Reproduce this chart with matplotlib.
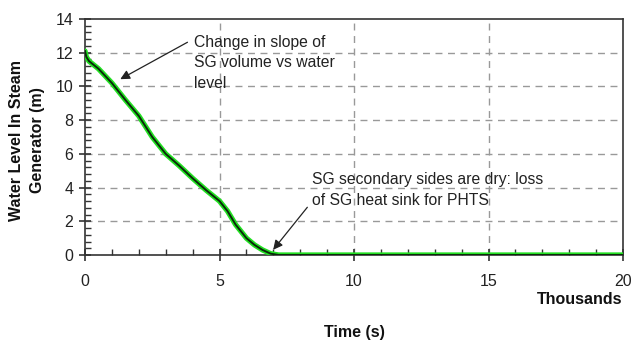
import matplotlib
matplotlib.use("Agg")
import matplotlib.pyplot as plt
from matplotlib.ticker import MultipleLocator

plt.rcParams['font.family'] = ['Liberation Sans', 'DejaVu Sans']

time_k = [0, 0.05, 0.15, 0.5, 1.0, 1.5, 2.0, 2.5, 3.0, 3.5, 4.0, 4.5, 5.0,
          5.3, 5.6, 6.0, 6.3, 6.6, 6.9, 7.2, 8.0, 20.0]
level_m = [12.1, 11.75, 11.5, 11.05, 10.2, 9.2, 8.25, 7.0, 6.0, 5.3, 4.55, 3.85, 3.2,
           2.6, 1.8, 1.0, 0.6, 0.3, 0.08, 0.0, 0.0, 0.0]

x_ticks = [0, 5, 10, 15, 20]
y_ticks = [0, 2, 4, 6, 8, 10, 12, 14]

note1 = "Change in slope of\nSG volume vs water\nlevel"
note2 = "SG secondary sides are dry: loss\nof SG heat sink for PHTS"

fig = plt.figure(figsize=(6.33, 3.44), dpi=100)
ax = fig.add_axes([85/633, 1-255/344, 538/633, 236/344])

ax.plot(time_k, level_m, color='#22e022', lw=3.8, solid_capstyle='round', zorder=3)
ax.plot(time_k, level_m, color='#0a2a0a', lw=1.4, zorder=4)

ax.set_xlim(0, 20)
ax.set_ylim(0, 14)
ax.set_xticks(x_ticks)
ax.set_yticks(y_ticks)
ax.xaxis.set_minor_locator(MultipleLocator(1))
ax.yaxis.set_minor_locator(MultipleLocator(0.4))
ax.tick_params(which='major', direction='inout', length=9, width=1.2, color='#333333',
               labelsize=11.5, labelcolor='#222222')
ax.tick_params(which='minor', direction='in', length=4, width=1, color='#333333')
ax.tick_params(axis='x', which='major', pad=9)
ax.tick_params(axis='y', which='major', pad=4)

for s in ax.spines.values():
    s.set_color('#333333')
    s.set_linewidth(1.2)

for yv in y_ticks[1:-1]:
    ax.axhline(yv, color='#999999', lw=1, ls=(0, (5, 4)), zorder=1)
for xv in x_ticks[1:-1]:
    ax.axvline(xv, color='#999999', lw=1, ls=(0, (5, 4)), zorder=1)

ax.text(4.07, 13.05, note1, fontsize=11.3, va='top', ha='left', linespacing=1.45, color='#222222')
ax.annotate('', xy=(1.22, 10.35), xytext=(3.9, 12.7),
            arrowprops=dict(arrowstyle='-|>', color='#222222', lw=0.9, mutation_scale=14))
ax.text(8.44, 4.9, note2, fontsize=11.3, va='top', ha='left', linespacing=1.45, color='#222222')
ax.annotate('', xy=(6.93, 0.18), xytext=(8.33, 2.96),
            arrowprops=dict(arrowstyle='-|>', color='#222222', lw=0.9, mutation_scale=14))

fig.text(622/633, 1-300/344, "Thousands", ha='right', va='center', fontsize=11.5,
         fontweight='bold', color='#111111')
fig.text(354/633, 1-333/344, "Time (s)", ha='center', va='center', fontsize=11.5,
         fontweight='bold', color='#111111')
fig.text(27/633, 1-140/344, "Water Level In Steam\nGenerator (m)", ha='center', va='center',
         rotation=90, fontsize=11.5, fontweight='bold', color='#111111', linespacing=1.55)

fig.savefig("out.png", dpi=100)
